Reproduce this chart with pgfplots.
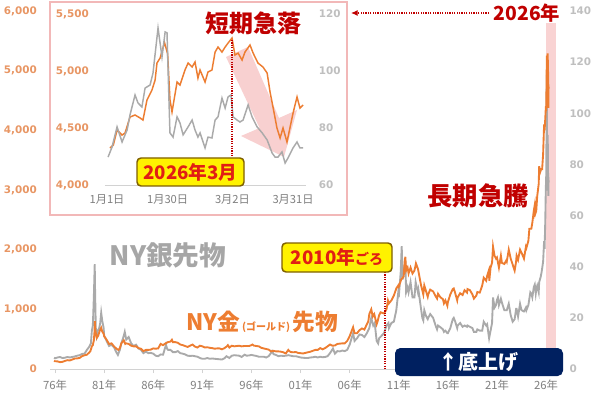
\documentclass[border=0pt]{standalone}
\usepackage{fontspec}
\usepackage{pgfplots}
\pgfplotsset{compat=1.18}
\usetikzlibrary{arrows.meta}
\setmainfont{DejaVu Sans}
\newfontfamily\jp{Noto Sans CJK JP}
\definecolor{gold}{RGB}{237,125,49}
\definecolor{silver}{RGB}{170,170,170}
\definecolor{goldtick}{RGB}{232,150,100}
\definecolor{silvtick}{RGB}{191,191,191}
\definecolor{silvlab}{RGB}{166,166,166}
\definecolor{xlab}{RGB}{127,127,127}
\definecolor{axgrey}{RGB}{210,210,210}
\definecolor{dred}{RGB}{192,0,0}
\definecolor{boxred}{RGB}{225,30,20}
\definecolor{boxedge}{RGB}{127,96,0}
\definecolor{navy}{RGB}{0,32,96}
\definecolor{framepink}{RGB}{242,184,184}
\definecolor{bandpink}{RGB}{249,211,211}
\definecolor{arrowpink}{RGB}{244,170,170}
\begin{document}
\begin{tikzpicture}
\useasboundingbox (0,0) rectangle (450pt,297.75pt);
% ---------- silver (right axis) ----------
\begin{axis}[at={(37.6pt,21pt)}, anchor=south west, scale only axis,
  width=383pt, height=268.5pt, xmin=1975.5, xmax=2027.5, ymin=0, ymax=140,
  axis y line*=right, hide x axis, y axis line style={draw=none},
  ytick={0,20,...,140}, ytick style={draw=none}, tick align=inside,
  yticklabel style={font=\bfseries\fontsize{7.8}{9}\selectfont, text=silvtick, xshift=3pt},
  /pgf/number format/assume math mode=true]
\fill[bandpink] (axis cs:2025.95,0) rectangle (axis cs:2027.0,135.3);
\addplot[silver, line width=1.4pt, mark=none] table {
1975.9 4.4
1976.0 4.2
1976.25 4.5
1976.5 4.7
1976.75 4.3
1977.0 4.4
1977.25 4.7
1977.5 4.5
1977.75 4.7
1978.0 4.9
1978.25 5.2
1978.5 5.4
1978.75 5.9
1979.0 6.0
1979.25 7.5
1979.5 8.8
1979.65 10
1979.75 15
1979.85 17
1979.95 28
1980.04 41
1980.08 30
1980.15 16
1980.25 13
1980.35 15
1980.5 16
1980.6 18
1980.7 22
1980.8 19
1980.95 16
1981.0 13
1981.25 11
1981.5 9
1981.75 9.5
1982.0 8.5
1982.25 6.5
1982.4 5.5
1982.6 7.5
1982.75 10
1983.0 13
1983.1 14.5
1983.25 11.5
1983.5 12.5
1983.75 10
1984.0 9
1984.25 9.5
1984.5 8
1984.75 7.5
1985.0 6.2
1985.25 6.8
1985.5 6.2
1985.75 6.3
1986.0 6
1986.25 5.2
1986.5 5
1986.75 5.7
1987.0 5.6
1987.3 9.5
1987.4 8
1987.5 7.5
1987.75 7.5
1988.0 6.6
1988.25 6.6
1988.5 7
1988.75 6.2
1989.0 6
1989.25 5.7
1989.5 5.2
1989.75 5.1
1990.0 5.2
1990.25 5
1990.5 4.8
1990.75 4.3
1991.0 4
1991.25 4
1991.5 4.3
1991.75 4.0
1992.0 4.1
1992.25 4
1992.5 3.9
1992.75 3.8
1993.0 3.7
1993.25 4.2
1993.45 5.0
1993.75 4.3
1994.0 5.2
1994.25 5.4
1994.5 5.3
1994.75 5.2
1995.0 4.7
1995.3 5.6
1995.5 5.2
1995.75 5.3
1996.0 5.5
1996.25 5.3
1996.5 5.1
1996.75 4.8
1997.0 4.8
1997.25 4.8
1997.5 4.5
1997.75 5.0
1998.0 6.3
1998.1 7.0
1998.25 5.8
1998.5 5.5
1998.75 5.0
1999.0 5.2
1999.25 5.1
1999.5 5.2
1999.75 5.4
2000.0 5.2
2000.25 5.0
2000.5 5.0
2000.75 4.8
2001.0 4.5
2001.25 4.4
2001.5 4.3
2001.75 4.3
2002.0 4.5
2002.25 4.6
2002.5 4.8
2002.75 4.5
2003.0 4.8
2003.25 4.6
2003.5 4.7
2003.75 5.0
2004.0 6.2
2004.3 8.0
2004.5 6.0
2004.75 7.0
2005.0 6.9
2005.25 7.2
2005.5 7.0
2005.75 7.5
2006.0 9.5
2006.35 14
2006.5 11
2006.75 12
2007.0 13.5
2007.25 13.3
2007.5 12.5
2007.75 14
2008.0 16
2008.2 20
2008.4 17
2008.55 18
2008.75 11
2008.9 10
2009.0 12
2009.25 13
2009.5 14
2009.75 17
2009.95 18
2010.0 16
2010.25 18
2010.5 18.5
2010.75 23
2010.95 30
2011.0 28
2011.2 38
2011.3 48
2011.4 35
2011.5 38
2011.67 42
2011.75 30
2011.9 32
2012.0 30
2012.2 34
2012.4 28
2012.6 28
2012.72 34
2012.95 30
2013.0 31
2013.25 24
2013.4 20
2013.5 19
2013.6 23
2013.75 21
2013.95 19.5
2014.0 20
2014.2 21.5
2014.5 20
2014.75 17
2014.9 15.5
2015.0 17
2015.25 16.3
2015.5 15.5
2015.6 14.5
2015.75 15
2015.95 14
2016.0 14
2016.25 16
2016.5 19.5
2016.6 20
2016.75 18.5
2016.95 16
2017.0 17
2017.25 18
2017.5 16.5
2017.7 17
2017.95 16.5
2018.0 17
2018.25 16.5
2018.5 16
2018.65 14.5
2018.9 14.5
2019.0 15.5
2019.25 15
2019.5 15
2019.65 18.5
2019.9 17
2020.0 17.5
2020.2 12
2020.35 15
2020.5 18
2020.6 28
2020.75 24
2020.9 25
2021.0 27
2021.1 28
2021.2 25
2021.4 27.5
2021.5 26
2021.75 23
2021.95 23
2022.0 23
2022.2 25.5
2022.4 21
2022.6 18.5
2022.8 19.5
2022.95 23.5
2023.0 23.5
2023.15 20.5
2023.35 25.5
2023.5 23
2023.75 22.5
2023.95 24
2024.0 23
2024.2 25
2024.4 30
2024.5 29.5
2024.6 28
2024.75 32
2024.85 33
2024.95 29.5
2025.0 31
2025.1 32.5
2025.25 30
2025.3 34
2025.45 36
2025.55 38
2025.7 42
2025.8 50
2025.85 47
2025.92 58
2025.98 72
2026.001 69.8
2026.03 84.6
2026.05 94
2026.067 115
2026.077 113.4
2026.082 78.3
2026.1 82.8
2026.13 73
2026.15 83.9
2026.162 91.6
2026.17 82.8
2026.185 88
2026.2 78
2026.22 69.8
2026.233 67.7
2026.25 75
2026.257 73
};
\end{axis}
% ---------- gold (left axis) ----------
\begin{axis}[at={(37.6pt,21pt)}, anchor=south west, scale only axis,
  width=383pt, height=268.5pt, xmin=1975.5, xmax=2027.5, ymin=0, ymax=6000,
  axis x line*=bottom, axis y line*=left, y axis line style={draw=none},
  x axis line style={draw=axgrey, line width=0.7pt},
  ytick={0,1000,...,6000}, ytick style={draw=none},
  xtick={1976,1981,1986,1991,1996,2001,2006,2011,2016,2021,2026},
  xticklabels={76年,81年,86年,91年,96年,01年,06年,11年,16年,21年,26年},
  xtick style={draw=axgrey, line width=0.7pt}, tick align=outside, major tick length=3pt,
  xticklabel style={font=\jp\fontsize{8.5}{10}\selectfont, text=xlab, yshift=-1.5pt},
  yticklabel style={font=\bfseries\fontsize{7.8}{9}\selectfont, text=goldtick, xshift=-3.5pt},
  scaled y ticks=false,
  /pgf/number format/1000 sep={,}, /pgf/number format/assume math mode=true]
\addplot[gold, line width=1.4pt, mark=none] table {
1975.9 140
1976.0 130
1976.25 128
1976.5 115
1976.75 120
1977.0 135
1977.25 148
1977.5 143
1977.75 158
1978.0 175
1978.25 178
1978.5 185
1978.75 215
1979.0 230
1979.25 240
1979.5 280
1979.6 300
1979.75 380
1979.85 400
1979.95 480
1980.03 650
1980.05 800
1980.1 650
1980.25 520
1980.4 560
1980.55 640
1980.7 690
1980.8 630
1980.95 590
1981.0 550
1981.25 490
1981.5 420
1981.75 430
1982.0 380
1982.25 340
1982.45 320
1982.6 350
1982.75 430
1983.0 480
1983.15 420
1983.25 430
1983.5 420
1983.75 390
1984.0 380
1984.25 380
1984.5 350
1984.75 340
1985.0 300
1985.25 320
1985.5 320
1985.75 325
1986.0 345
1986.25 340
1986.5 345
1986.75 420
1987.0 400
1987.25 430
1987.5 450
1987.75 460
1987.9 490
1988.0 450
1988.25 450
1988.5 440
1988.75 410
1989.0 400
1989.25 385
1989.5 370
1989.75 390
1990.0 410
1990.25 375
1990.5 360
1990.75 390
1991.0 380
1991.25 360
1991.5 365
1991.75 355
1992.0 350
1992.25 340
1992.5 345
1992.75 345
1993.0 330
1993.25 350
1993.5 380
1993.6 400
1993.75 360
1994.0 390
1994.25 380
1994.5 385
1994.75 390
1995.0 380
1995.25 385
1995.5 385
1995.75 385
1996.0 400
1996.1 410
1996.25 392
1996.5 385
1996.75 380
1997.0 355
1997.25 345
1997.5 335
1997.75 325
1998.0 295
1998.25 305
1998.5 295
1998.75 295
1999.0 290
1999.25 280
1999.5 260
1999.75 320
1999.85 300
2000.0 285
2000.25 280
2000.5 285
2000.75 270
2001.0 265
2001.25 260
2001.5 270
2001.75 280
2002.0 290
2002.25 305
2002.5 320
2002.75 320
2003.0 350
2003.25 330
2003.5 350
2003.75 380
2004.0 410
2004.25 390
2004.5 395
2004.75 420
2005.0 425
2005.25 430
2005.5 430
2005.75 470
2006.0 550
2006.35 700
2006.5 600
2006.75 600
2007.0 650
2007.25 680
2007.5 660
2007.75 750
2007.9 800
2008.0 920
2008.2 1000
2008.35 880
2008.5 920
2008.75 750
2008.85 800
2009.0 900
2009.15 950
2009.5 930
2009.75 1000
2009.9 1150
2010.0 1100
2010.25 1150
2010.5 1230
2010.75 1350
2010.95 1400
2011.0 1380
2011.25 1500
2011.5 1550
2011.6 1800
2011.67 1880
2011.75 1650
2011.9 1700
2012.0 1600
2012.2 1700
2012.4 1600
2012.6 1650
2012.75 1770
2012.95 1680
2013.0 1640
2013.25 1420
2013.35 1350
2013.5 1250
2013.6 1400
2013.75 1320
2013.95 1210
2014.0 1250
2014.2 1330
2014.5 1300
2014.75 1220
2014.9 1180
2015.0 1260
2015.25 1200
2015.5 1170
2015.6 1100
2015.75 1150
2015.95 1060
2016.0 1120
2016.25 1250
2016.5 1340
2016.6 1350
2016.75 1270
2016.95 1150
2017.0 1200
2017.25 1270
2017.5 1240
2017.7 1320
2017.95 1280
2018.0 1340
2018.25 1320
2018.5 1250
2018.65 1180
2018.9 1230
2019.0 1290
2019.25 1280
2019.5 1400
2019.65 1530
2019.9 1480
2020.0 1560
2020.17 1650
2020.22 1480
2020.35 1700
2020.5 1780
2020.6 2050
2020.75 1900
2020.9 1850
2021.0 1870
2021.2 1700
2021.4 1900
2021.5 1780
2021.75 1760
2021.95 1820
2022.0 1800
2022.2 2000
2022.4 1850
2022.6 1750
2022.8 1650
2022.95 1800
2023.0 1900
2023.15 1830
2023.35 2000
2023.5 1950
2023.75 1850
2023.95 2050
2024.0 2030
2024.2 2150
2024.3 2350
2024.5 2350
2024.6 2450
2024.75 2650
2024.85 2750
2024.9 2600
2025.0 2650
2025.1 2900
2025.25 3100
2025.3 3400
2025.4 3300
2025.5 3350
2025.6 3350
2025.7 3600
2025.8 4100
2025.85 4000
2025.92 4200
2025.98 4400
2026.004 4325
2026.03 4596
2026.05 4745
2026.065 5070
2026.075 5250
2026.085 4640
2026.1 5009
2026.12 5026
2026.14 5166
2026.164 5289
2026.18 5166
2026.2 5035
2026.215 4815
2026.227 4412
2026.236 4377
2026.25 4772
2026.257 4700
};
\end{axis}
% ---------- annotations on main chart ----------
\begin{scope}[x=0.75pt, y=-0.75pt, shift={(0pt,297.75pt)}]
\draw[dred, line width=0.8pt, dash pattern=on 0.9pt off 0.9pt] (385,272) -- (385,369);
\draw[rounded corners=3pt, fill=yellow, draw=boxedge, line width=1.1pt] (282,243) rectangle (392,272);
\node[text=boxred, font=\jp\bfseries, inner sep=0pt] at (337,257.5) {{\fontsize{14}{14}\selectfont 2010年}{\fontsize{10.5}{11}\selectfont ごろ}};
\node[text=silvlab, font=\jp\bfseries\fontsize{20}{20}\selectfont, inner sep=0pt] at (168,255) {NY銀先物};
\node[text=gold, font=\jp\bfseries, inner sep=0pt, anchor=east] at (338,322) {{\fontsize{17}{17}\selectfont NY金}\,{\fontsize{7.5}{8}\selectfont (ゴールド)}\,{\fontsize{17}{17}\selectfont 先物}};
\node[text=dred, font=\jp\bfseries\fontsize{19}{19}\selectfont, inner sep=0pt] at (478,196) {長期急騰};
\node[text=dred, font=\jp\bfseries\fontsize{14.5}{15}\selectfont, inner sep=0pt] at (527,13) {2026年};
\draw[dred, line width=0.8pt, dash pattern=on 0.9pt off 0.9pt, -{Latex[length=5pt,width=4.5pt]}] (489,13) -- (351,13);
\fill[navy, rounded corners=4pt] (395,348) rectangle (563,376);
\node[text=white, font=\jp\bfseries\fontsize{15}{15}\selectfont, inner sep=0pt] at (478,362) {↑底上げ};
% inset frame
\filldraw[fill=white, draw=framepink, line width=2.2pt] (50,2) rectangle (347,215);
% pink arrow
\fill[arrowpink, opacity=0.55] (226,57) -- (259.6,128) -- (241,136) -- (284,157) -- (297,110) -- (279,118) -- (248,47) -- cycle;
\end{scope}
% ---------- inset gold ----------
\begin{axis}[at={(78.7pt,159pt)}, anchor=south west, scale only axis,
  width=150.5pt, height=128.25pt, xmin=-1, xmax=95, ymin=4000, ymax=5500,
  axis x line*=bottom, axis y line*=left, y axis line style={draw=none},
  x axis line style={draw=axgrey, line width=0.6pt},
  ytick={4000,4500,5000,5500}, ytick style={draw=none},
  xtick={0,29,60,89}, xticklabels={1月1日,1月30日,3月2日,3月31日},
  xtick style={draw=none}, tick align=inside,
  xticklabel style={font=\jp\fontsize{8.4}{10}\selectfont, text=xlab, yshift=-4pt},
  yticklabel style={font=\bfseries\fontsize{7.8}{9}\selectfont, text=goldtick, xshift=-8.5pt},
  scaled y ticks=false,
  /pgf/number format/1000 sep={,}, /pgf/number format/assume math mode=true]
\addplot[gold, line width=1.1pt, mark=none] table {
1.4 4325
3.0 4350
4.8 4482
7.2 4438
8.6 4455
11 4596
13.4 4614
15.8 4588
17.2 4570
19.1 4745
21.5 4833
23 4920
23.9 5070
25.4 5114
27.5 5250
29.0 5150
30.1 4750
31.1 4640
33.5 4903
34.9 4877
37.3 5009
38.8 5070
40.7 5035
42.1 5079
43.5 4938
44.5 5009
46.9 4903
48.3 4991
50.2 5009
51.7 5166
53.1 5210
55 5166
56.5 5210
57.9 5245
59.8 5289
61.2 5140
62.7 5157
64.6 5096
66 5166
68.4 5228
69.9 5157
72.2 5070
74.6 5035
76.6 4982
78 4815
79.4 4684
81.3 4500
82.8 4412
84.2 4500
86.1 4377
87.6 4509
89 4631
90.9 4772
92.3 4675
93.8 4702
};
\end{axis}
% ---------- inset silver ----------
\begin{axis}[at={(78.7pt,159pt)}, anchor=south west, scale only axis,
  width=150.5pt, height=128.25pt, xmin=-1, xmax=95, ymin=60, ymax=120,
  axis y line*=right, hide x axis, y axis line style={draw=none},
  ytick={60,80,100,120}, ytick style={draw=none}, tick align=inside,
  yticklabel style={font=\bfseries\fontsize{7.8}{9}\selectfont, text=silvtick, xshift=6.5pt},
  /pgf/number format/assume math mode=true]
\addplot[silver, line width=1.1pt, mark=none] table {
0.5 69.8
2.4 73.3
4.8 80.4
7.2 75.1
9.6 79.3
11 84.6
13.4 91.6
14.8 88.8
16.7 87.4
18.2 94.0
20.6 95.1
22 99.3
24.4 115.1
26.3 104.9
27.8 113.7
28.7 113.4
29.2 100.4
30.1 78.3
31.6 76.8
33.5 83.9
34.9 81.8
36.4 77.6
38.8 80.4
40.7 82.8
42.1 79.3
43.5 76.8
44.5 78.3
46.9 73.0
48.3 76.8
50.2 76.5
51.7 82.8
53.1 83.9
55 90.5
56.5 87.0
57.9 90.9
59.3 91.6
60.3 83.9
62.2 82.8
63.6 82.1
65.1 82.8
67.5 88.1
69.4 83.9
71.8 80.4
74.2 78.3
76.6 75.8
79 71.2
80.4 69.8
81.8 69.8
83.7 71.6
85.2 67.7
86.6 69.5
89 73.0
90.9 75.1
92.3 73.0
93.8 73.0
};
\end{axis}
% ---------- inset annotations ----------
\begin{scope}[x=0.75pt, y=-0.75pt, shift={(0pt,297.75pt)}]
\draw[dred, line width=0.8pt, dash pattern=on 0.9pt off 0.9pt] (232,40) -- (232,158);
\draw[rounded corners=3pt, fill=yellow, draw=boxedge, line width=1.1pt] (137,158) rectangle (244,186);
\node[text=boxred, font=\jp\bfseries\fontsize{14}{14}\selectfont, inner sep=0pt] at (190.5,172) {2026年3月};
\node[text=dred, font=\jp\bfseries\fontsize{18}{18}\selectfont, inner sep=0pt] at (253,23) {短期急落};
\end{scope}
\end{tikzpicture}
\end{document}
